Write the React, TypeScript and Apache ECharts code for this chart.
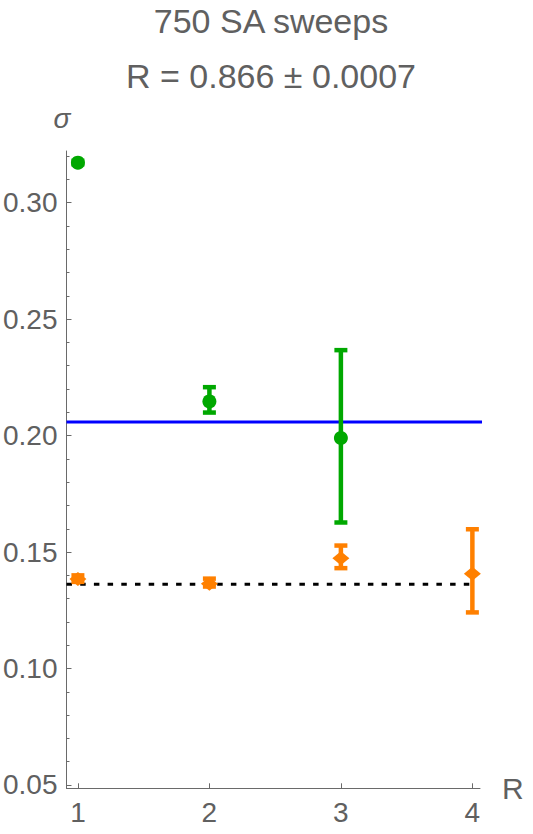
import React, { useEffect, useRef } from "react";
import * as echarts from "echarts";

// ---- data ----
const greenX = [1, 2, 3];
const greenMean = [0.3172, 0.2147, 0.199];
const greenLow = [0.3165, 0.2099, 0.1627];
const greenHigh = [0.318, 0.2208, 0.2367];

const orangeX = [1, 2, 3, 4];
const orangeMean = [0.1384, 0.1364, 0.1474, 0.1407];
const orangeLow = [0.1372, 0.1352, 0.1431, 0.1241];
const orangeHigh = [0.14, 0.1386, 0.1528, 0.1598];

const blueLevel = 0.2059;
const blueRange = [0.9132, 4.08];
const dottedLevel = 0.1362;
const dottedRange = [0.9132, 4.0];

const xTicks = [1, 2, 3, 4];
const yMajorTicks = [0.05, 0.1, 0.15, 0.2, 0.25, 0.3];
const yMinorTicks = [
  0.06, 0.07, 0.08, 0.09, 0.11, 0.12, 0.13, 0.14, 0.16, 0.17, 0.18, 0.19,
  0.21, 0.22, 0.23, 0.24, 0.26, 0.27, 0.28, 0.29, 0.31, 0.32,
];

const titleLines = ["750 SA sweeps", "R = 0.866 ± 0.0007"];

const GREEN = "#00a800";
const ORANGE = "#ff8000";
const AXIS = "#6a6a6a";
const TEXT = "#606060";
const FONT = '"Liberation Sans", Arial, sans-serif';

function errorBarSeries(xs: number[], lo: number[], hi: number[], color: string) {
  return {
    type: "custom",
    z: 3,
    data: xs.map((x, i) => [x, lo[i], hi[i]]),
    encode: { x: 0, y: [1, 2] },
    renderItem: (_params: any, api: any) => {
      const x = api.value(0);
      const top = api.coord([x, api.value(2)]);
      const bot = api.coord([x, api.value(1)]);
      const hw = 6.5;
      const style = { stroke: color, lineWidth: 4.5 };
      return {
        type: "group",
        children: [
          { type: "line", shape: { x1: top[0], y1: top[1], x2: bot[0], y2: bot[1] }, style },
          { type: "line", shape: { x1: top[0] - hw, y1: top[1], x2: top[0] + hw, y2: top[1] }, style },
          { type: "line", shape: { x1: bot[0] - hw, y1: bot[1], x2: bot[0] + hw, y2: bot[1] }, style },
        ],
      };
    },
  };
}

export default function App() {
  const ref = useRef<HTMLDivElement>(null);
  useEffect(() => {
    document.body.style.margin = "0";
    if (!ref.current) return;
    const chart = echarts.init(ref.current, undefined, { renderer: "svg" });
    const yMin = 0.04858;
    const yMax = 0.3222;
    chart.setOption({
      animation: false,
      backgroundColor: "#ffffff",
      textStyle: { fontFamily: FONT },
      grid: { left: 63.5, top: 151, width: 416.5, height: 637.3, containLabel: false },
      xAxis: {
        type: "value",
        min: 0.9132,
        max: 4.058,
        name: "R",
        nameLocation: "end",
        nameGap: 22,
        nameTextStyle: { fontSize: 30, color: TEXT, fontFamily: FONT, verticalAlign: "middle" },
        axisLine: { show: true, onZero: false, lineStyle: { color: AXIS, width: 1 } },
        axisTick: { show: true, inside: true, length: 5, customValues: xTicks, lineStyle: { color: AXIS } },
        axisLabel: {
          show: true,
          customValues: xTicks,
          margin: 10,
          fontSize: 28,
          color: TEXT,
          fontFamily: FONT,
          formatter: (v: number) => String(v),
        },
        splitLine: { show: false },
      },
      yAxis: [
        {
          type: "value",
          position: "left",
          min: yMin,
          max: yMax,
          axisLine: { show: true, lineStyle: { color: AXIS, width: 1 } },
          axisTick: { show: true, inside: true, length: 5, customValues: yMajorTicks, lineStyle: { color: AXIS } },
          axisLabel: {
            show: true,
            customValues: yMajorTicks,
            margin: 9,
            fontSize: 28,
            color: TEXT,
            fontFamily: FONT,
            formatter: (v: number) => v.toFixed(2),
          },
          splitLine: { show: false },
        },
        {
          type: "value",
          position: "left",
          offset: 0,
          min: yMin,
          max: yMax,
          axisLine: { show: false },
          axisTick: { show: true, inside: true, length: 3, customValues: yMinorTicks, lineStyle: { color: AXIS } },
          axisLabel: { show: false },
          splitLine: { show: false },
        },
      ],
      graphic: [
        {
          type: "text",
          style: {
            text: titleLines[0],
            x: 271,
            y: 21,
            textAlign: "center",
            textVerticalAlign: "middle",
            fontSize: 34,
            fontFamily: FONT,
            fill: TEXT,
          },
        },
        {
          type: "text",
          style: {
            text: titleLines[1],
            x: 271,
            y: 75.5,
            textAlign: "center",
            textVerticalAlign: "middle",
            fontSize: 34,
            fontFamily: FONT,
            fill: TEXT,
          },
        },
        {
          type: "text",
          style: {
            text: "σ",
            x: 62,
            y: 118,
            textAlign: "center",
            textVerticalAlign: "middle",
            fontSize: 28,
            fontStyle: "italic",
            fontFamily: FONT,
            fill: TEXT,
          },
        },
      ],
      series: [
        {
          type: "line",
          z: 1,
          clip: false,
          symbol: "none",
          silent: true,
          data: blueRange.map((x) => [x, blueLevel]),
          lineStyle: { color: "#0000ff", width: 3 },
        },
        {
          type: "line",
          z: 1,
          symbol: "none",
          silent: true,
          data: dottedRange.map((x) => [x, dottedLevel]),
          lineStyle: { color: "#000000", width: 3, type: [5.5, 8.2] },
        },
        errorBarSeries(greenX, greenLow, greenHigh, GREEN),
        errorBarSeries(orangeX, orangeLow, orangeHigh, ORANGE),
        {
          type: "scatter",
          z: 4,
          symbol: "circle",
          symbolSize: 14,
          itemStyle: { color: GREEN, opacity: 1 },
          data: greenX.map((x, i) => [x, greenMean[i]]),
        },
        {
          type: "scatter",
          z: 4,
          symbol: "diamond",
          symbolSize: [17, 14],
          itemStyle: { color: ORANGE, opacity: 1 },
          data: orangeX.map((x, i) => [x, orangeMean[i]]),
        },
      ],
    });
    return () => chart.dispose();
  }, []);
  return <div ref={ref} style={{ width: 533, height: 834 }} />;
}
